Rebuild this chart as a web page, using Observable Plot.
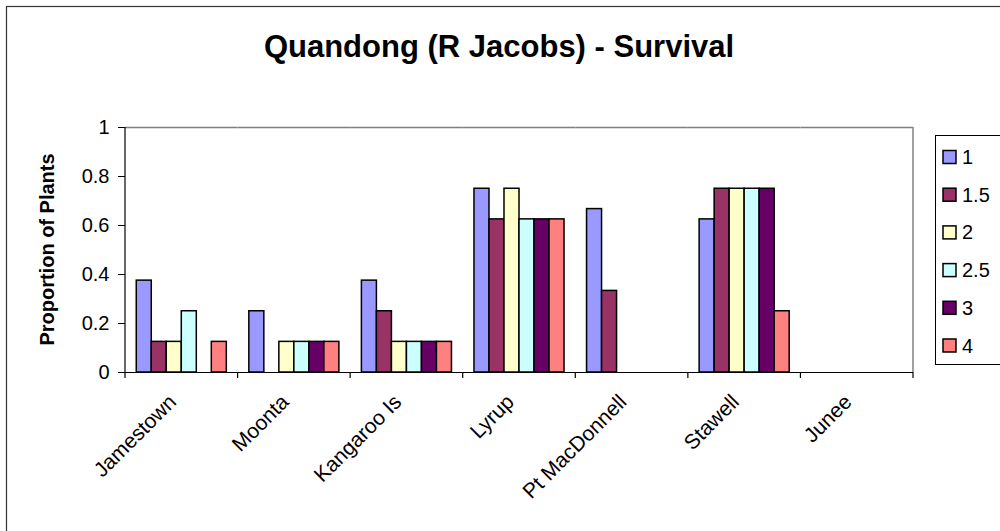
<!DOCTYPE html>
<html>
<head>
<meta charset="utf-8">
<script src="https://cdn.jsdelivr.net/npm/d3@7"></script>
<script src="https://cdn.jsdelivr.net/npm/@observablehq/plot@0.6"></script>
<style>
  html, body { margin: 0; padding: 0; background: #fff; }
  #wrap { position: relative; width: 1000px; height: 531px; overflow: hidden; }
  svg { font-family: "Liberation Sans", Arial, sans-serif; }
</style>
</head>
<body>
<div id="wrap"></div>
<script>
// ---- data ----
const sites = ["Jamestown", "Moonta", "Kangaroo Is", "Lyrup", "Pt MacDonnell", "Stawell", "Junee"];
const series = ["1", "1.5", "2", "2.5", "3", "4"];
const colors = ["#9999FF", "#993366", "#FFFFCC", "#CCFFFF", "#660066", "#FF8080"];
const s1  = [0.375, 0.25,  0.375, 0.75,  0.667, 0.625, 0];
const s15 = [0.125, 0,     0.25,  0.625, 0.333, 0.75,  0];
const s2  = [0.125, 0.125, 0.125, 0.75,  0,     0.75,  0];
const s25 = [0.25,  0.125, 0.125, 0.625, 0,     0.75,  0];
const s3  = [0,     0.125, 0.125, 0.625, 0,     0.75,  0];
const s4  = [0.125, 0.125, 0.125, 0.625, 0,     0.25,  0];
const yTicks = [0, 0.2, 0.4, 0.6, 0.8, 1];
const titleText = "Quandong (R Jacobs) - Survival";
const yLabel = "Proportion of Plants";

const seriesValues = [s1, s15, s2, s25, s3, s4];
const data = sites.flatMap((site, i) =>
  series.map((s, j) => ({ site, series: s, value: seriesValues[j][i] }))
);

const FONT = "'Liberation Sans', Arial, sans-serif";

const chart = Plot.plot({
  width: 1000,
  height: 531,
  marginLeft: 125,
  marginRight: 87,
  marginTop: 127,
  marginBottom: 159,
  style: { fontFamily: FONT, fontSize: "20px", background: "#fff", color: "#000", overflow: "hidden" },
  fx: { domain: sites, padding: 0, round: false, label: null },
  x: { domain: series, paddingInner: 0, paddingOuter: 0.75, round: false, axis: null },
  y: { domain: [0, 1], label: null },
  color: { domain: series, range: colors },
  marks: [
    Plot.ruleY([1], { stroke: "#808080", strokeWidth: 1.5 }),
    Plot.barY(data, {
      fx: "site", x: "series", y: "value", fill: "series",
      stroke: "#000", strokeWidth: 1.5
    }),
    Plot.ruleY([0], { stroke: "#000", strokeWidth: 1.2 }),
    Plot.axisY({ ticks: yTicks, tickFormat: d => String(d), tickSize: 7, tickPadding: 9, fontSize: 20, label: null }),
    Plot.axisFx({ anchor: "bottom", tickRotate: -45, tickSize: 0, tickPadding: 26, dx: -9, fontSize: 21, label: null })
  ]
});

document.getElementById("wrap").appendChild(chart);

// ---- decorations drawn from the chart's scales ----
const svg = d3.select(chart);
const fx = chart.scale("fx");
const y = chart.scale("y");
const xL = Math.min(...fx.range), xR = Math.max(...fx.range);
const yBottom = y.apply(0), yTop = y.apply(1);
const step = (xR - xL) / sites.length;

const deco = svg.append("g").attr("text-anchor", "start");
// outer chart border (extends past the picture on right/bottom)
deco.append("rect").attr("x", 6.5).attr("y", 6.5).attr("width", 1020).attr("height", 540)
  .attr("fill", "none").attr("stroke", "#333").attr("stroke-width", 1.2);
// right plot border
deco.append("line").attr("x1", xR).attr("x2", xR).attr("y1", yTop).attr("y2", yBottom)
  .attr("stroke", "#808080").attr("stroke-width", 1.5);
// left axis line
deco.append("line").attr("x1", xL).attr("x2", xL).attr("y1", yTop).attr("y2", yBottom)
  .attr("stroke", "#000").attr("stroke-width", 1.2);
// category boundary ticks
for (let i = 0; i <= sites.length; i++) {
  const xx = xL + i * step;
  deco.append("line").attr("x1", xx).attr("x2", xx).attr("y1", yBottom).attr("y2", yBottom + 6)
    .attr("stroke", "#000").attr("stroke-width", 1.2);
}
// title
deco.append("text").attr("x", 499).attr("y", 57).attr("text-anchor", "middle")
  .attr("font-family", FONT).attr("font-weight", "bold").attr("font-size", 31).text(titleText);
// y label
deco.append("text").attr("transform", `translate(54,${(yTop + yBottom) / 2}) rotate(-90)`)
  .attr("text-anchor", "middle").attr("font-family", FONT).attr("font-weight", "bold")
  .attr("font-size", 20).text(yLabel);
// legend
const lg = deco.append("g");
lg.append("rect").attr("x", 935.5).attr("y", 135.5).attr("width", 120).attr("height", 229)
  .attr("fill", "#fff").attr("stroke", "#000").attr("stroke-width", 1);
series.forEach((s, i) => {
  const cy = 157 + i * 37.7;
  lg.append("rect").attr("x", 943).attr("y", cy - 6.5).attr("width", 13).attr("height", 13)
    .attr("fill", chart.scale("color").apply(s)).attr("stroke", "#000").attr("stroke-width", 1.5);
  lg.append("text").attr("x", 962).attr("y", cy + 7).attr("text-anchor", "start")
    .attr("font-family", FONT).attr("font-size", 20).text(s);
});
</script>
</body>
</html>
